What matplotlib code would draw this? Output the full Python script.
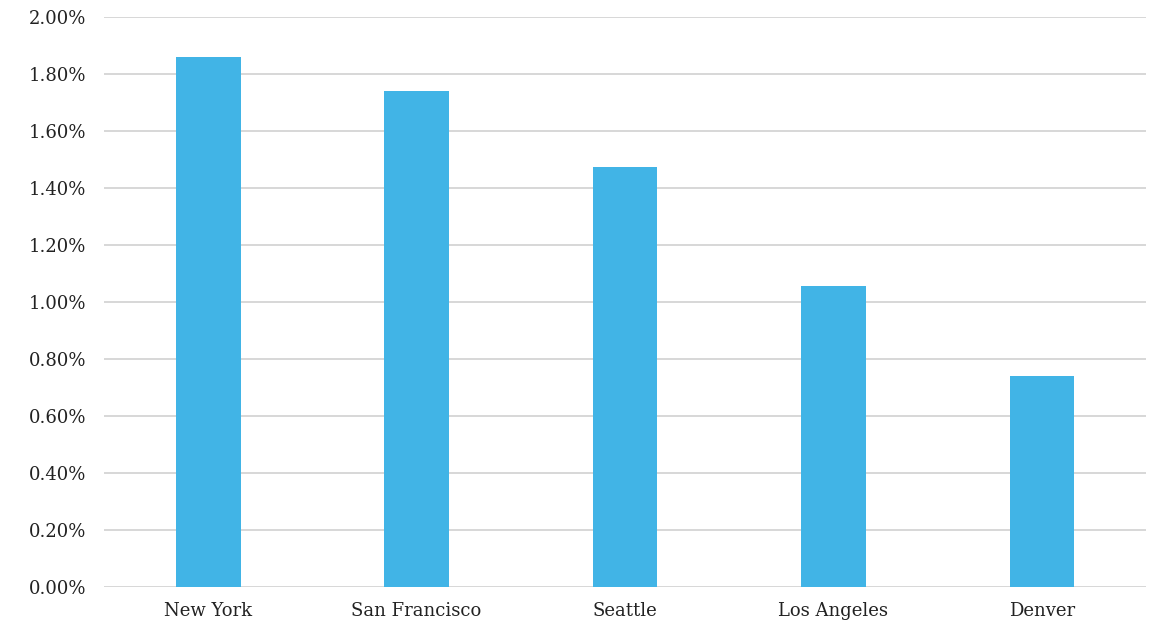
import matplotlib.pyplot as plt
from matplotlib.ticker import FuncFormatter, MultipleLocator

cities = ['New York', 'San Francisco', 'Seattle', 'Los Angeles', 'Denver']
shares = [1.86, 1.74, 1.475, 1.055, 0.74]  # percent

plt.rcParams['font.family'] = ['DejaVu Serif']

fig = plt.figure(figsize=(11.52, 6.23), dpi=100)
ax = fig.add_axes([0.0903, 0.0583, 0.9045, 0.9139])

x = range(len(cities))
ax.bar(x, shares, width=0.31, color='#41b4e6', zorder=3)

ax.set_xlim(-0.5, len(cities) - 0.5)
ax.set_ylim(0, 2.0)
ax.yaxis.set_major_locator(MultipleLocator(0.2))
ax.yaxis.set_major_formatter(FuncFormatter(lambda v, p: '%.2f%%' % v))
ax.grid(axis='y', color='#d4d4d4', linewidth=1.3, zorder=0)
ax.set_xticks(list(x))
ax.set_xticklabels(cities)

for s in ax.spines.values():
    s.set_visible(False)
ax.tick_params(axis='both', length=0, labelsize=13, colors='#222222')
ax.tick_params(axis='x', pad=11)
ax.tick_params(axis='y', pad=13)

fig.savefig('out.png', dpi=100)
